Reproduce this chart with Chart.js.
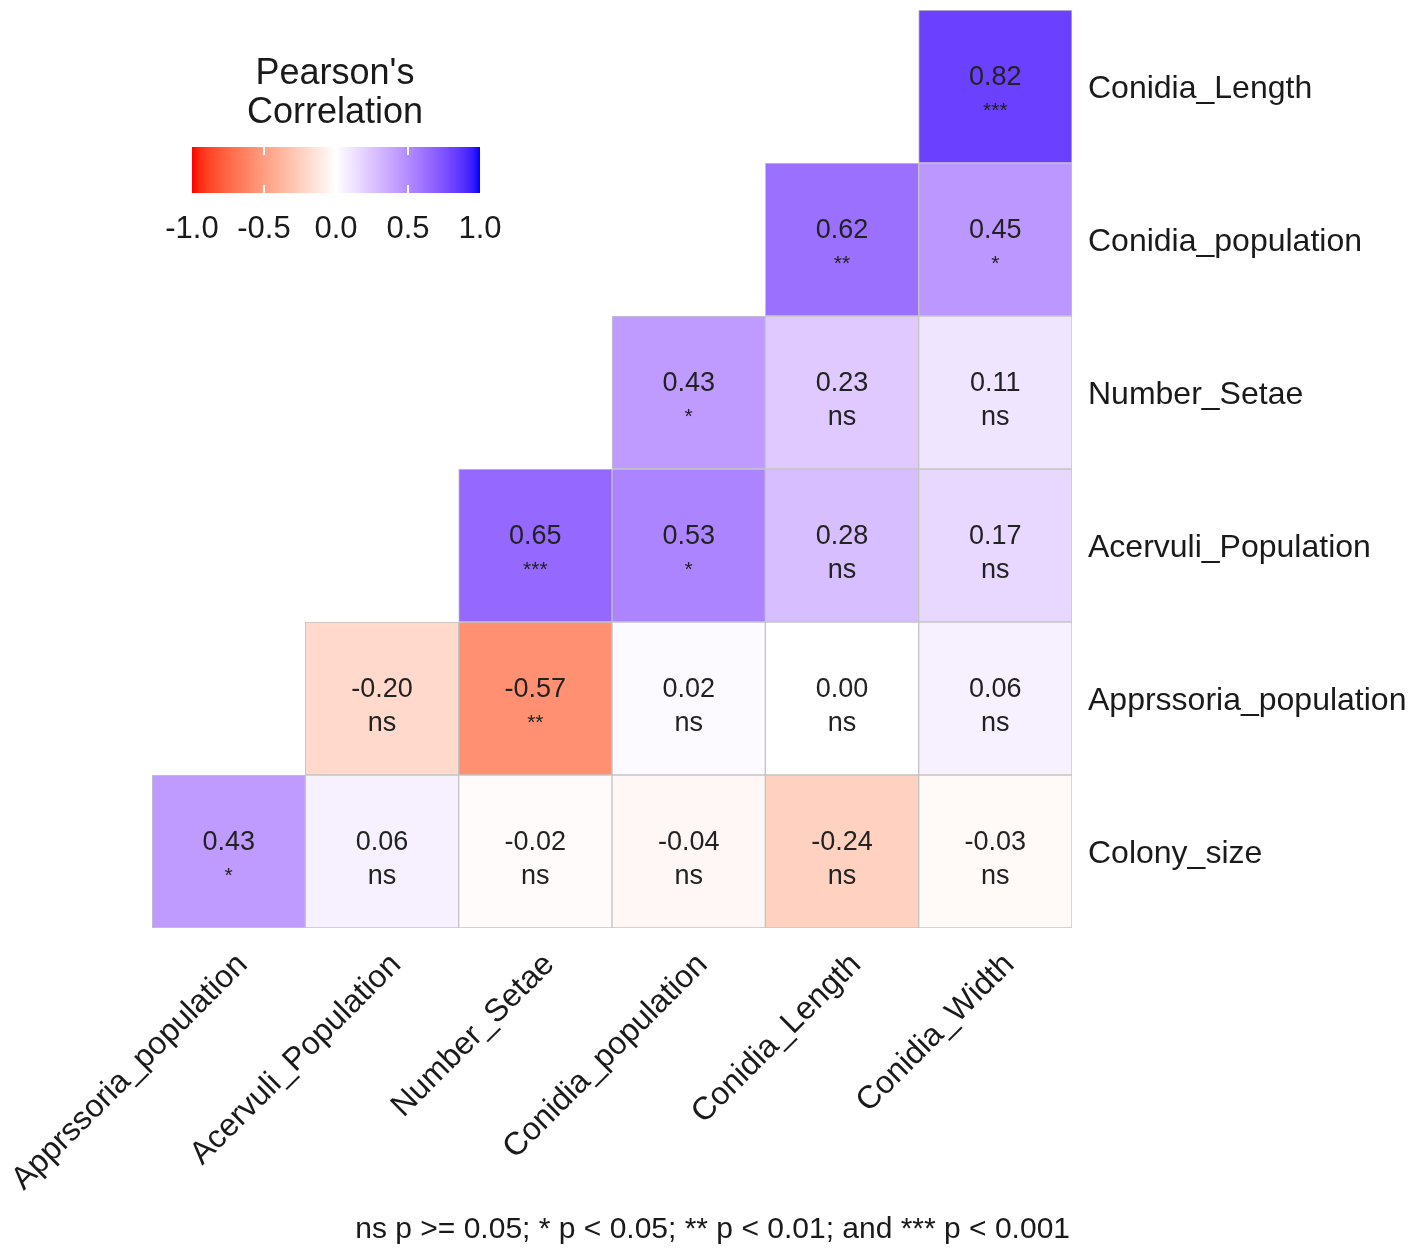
<!DOCTYPE html>
<html>
<head>
<meta charset="utf-8">
<script src="https://cdn.jsdelivr.net/npm/chart.js@4.4.0/dist/chart.umd.min.js"></script>
<style>
  html, body { margin: 0; padding: 0; background: #fff; }
  #wrap { width: 1418px; height: 1257px; }
</style>
</head>
<body>
<div id="wrap"><canvas id="corrChart"></canvas></div>
<script>
// columns (x) left to right
const colNames = ['Apprssoria_population', 'Acervuli_Population', 'Number_Setae', 'Conidia_population', 'Conidia_Length', 'Conidia_Width'];
// rows (y) bottom to top
const rowNames = ['Colony_size', 'Apprssoria_population', 'Acervuli_Population', 'Number_Setae', 'Conidia_population', 'Conidia_Length'];

// correlation values per row, null = empty cell
const colonySize     = [0.43, 0.06, -0.02, -0.04, -0.24, -0.03];
const apprssoriaPop  = [null, -0.20, -0.57, 0.02, 0.00, 0.06];
const acervuliPop    = [null, null, 0.65, 0.53, 0.28, 0.17];
const numberSetae    = [null, null, null, 0.43, 0.23, 0.11];
const conidiaPop     = [null, null, null, null, 0.62, 0.45];
const conidiaLength  = [null, null, null, null, null, 0.82];

// significance labels per row
const colonySizeSig    = ['*', 'ns', 'ns', 'ns', 'ns', 'ns'];
const apprssoriaPopSig = [null, 'ns', '**', 'ns', 'ns', 'ns'];
const acervuliPopSig   = [null, null, '***', '*', 'ns', 'ns'];
const numberSetaeSig   = [null, null, null, '*', 'ns', 'ns'];
const conidiaPopSig    = [null, null, null, null, '**', '*'];
const conidiaLengthSig = [null, null, null, null, null, '***'];

const legendTicks = [-1.0, -0.5, 0.0, 0.5, 1.0];
const footNote = 'ns p >= 0.05; * p < 0.05; ** p < 0.01; and *** p < 0.001';

const rowValues = [colonySize, apprssoriaPop, acervuliPop, numberSetae, conidiaPop, conidiaLength];
const rowSigs = [colonySizeSig, apprssoriaPopSig, acervuliPopSig, numberSetaeSig, conidiaPopSig, conidiaLengthSig];

const FONT = '"Liberation Sans", Arial, sans-serif';

// --- colour scale: red -> white -> blue, interpolated in Lab like ggplot ---
function toLin(c) { c /= 255; return c <= 0.04045 ? c / 12.92 : Math.pow((c + 0.055) / 1.055, 2.4); }
function fromLin(c) { c = c <= 0.0031308 ? 12.92 * c : 1.055 * Math.pow(c, 1 / 2.4) - 0.055; return Math.round(Math.max(0, Math.min(1, c)) * 255); }
function rgb2lab(rgb) {
  const r = toLin(rgb[0]), g = toLin(rgb[1]), b = toLin(rgb[2]);
  let x = (0.4124 * r + 0.3576 * g + 0.1805 * b) / 0.95047;
  let y = (0.2126 * r + 0.7152 * g + 0.0722 * b);
  let z = (0.0193 * r + 0.1192 * g + 0.9505 * b) / 1.08883;
  const f = t => t > 0.008856 ? Math.cbrt(t) : 7.787 * t + 16 / 116;
  x = f(x); y = f(y); z = f(z);
  return [116 * y - 16, 500 * (x - y), 200 * (y - z)];
}
function lab2rgb(lab) {
  const fy = (lab[0] + 16) / 116, fx = fy + lab[1] / 500, fz = fy - lab[2] / 200;
  const inv = t => t * t * t > 0.008856 ? t * t * t : (t - 16 / 116) / 7.787;
  const x = inv(fx) * 0.95047, y = inv(fy), z = inv(fz) * 1.08883;
  const r = 3.2406 * x - 1.5372 * y - 0.4986 * z;
  const g = -0.9689 * x + 1.8758 * y + 0.0415 * z;
  const b = 0.0557 * x - 0.2040 * y + 1.0570 * z;
  return [fromLin(r), fromLin(g), fromLin(b)];
}
const labLow = rgb2lab([255, 0, 0]), labMid = rgb2lab([255, 255, 255]), labHigh = rgb2lab([0, 0, 255]);
function corrColor(v) {
  const end = v < 0 ? labLow : labHigh, t = Math.min(1, Math.abs(v));
  const lab = [0, 1, 2].map(i => labMid[i] + (end[i] - labMid[i]) * t);
  const c = lab2rgb(lab);
  return 'rgb(' + c[0] + ',' + c[1] + ',' + c[2] + ')';
}

// one floating-bar dataset per row, each cell spans [row, row+1]
const datasets = rowValues.map((vals, r) => ({
  label: rowNames[r],
  data: vals.map(v => v === null ? null : [r, r + 1]),
  backgroundColor: vals.map(v => v === null ? 'rgba(0,0,0,0)' : corrColor(v)),
  borderColor: '#c4c4c4',
  borderWidth: 1,
  borderSkipped: false,
  grouped: false,
  barPercentage: 1,
  categoryPercentage: 1
}));

// cell labels: value + significance
const cellLabels = {
  id: 'cellLabels',
  afterDatasetsDraw(chart) {
    const ctx = chart.ctx, xs = chart.scales.x, ys = chart.scales.y;
    ctx.save();
    ctx.textAlign = 'center';
    ctx.textBaseline = 'middle';
    ctx.fillStyle = '#222';
    rowValues.forEach((vals, r) => {
      vals.forEach((v, c) => {
        if (v === null) return;
        const x = xs.getPixelForValue(c);
        const y = ys.getPixelForValue(r + 0.5);
        ctx.font = '27px ' + FONT;
        ctx.fillText(v.toFixed(2), x, y - 9);
        const s = rowSigs[r][c];
        if (s === 'ns') {
          ctx.fillText(s, x, y + 25);
        } else {
          ctx.font = '21px ' + FONT;
          ctx.fillText(s, x, y + 25);
        }
      });
    });
    ctx.restore();
  }
};

// colour bar legend + footnote
const colorLegend = {
  id: 'colorLegend',
  afterDraw(chart) {
    const ctx = chart.ctx;
    const bx = 192, by = 147, bw = 288, bh = 46;
    ctx.save();
    ctx.fillStyle = '#1a1a1a';
    ctx.textAlign = 'center';
    ctx.textBaseline = 'middle';
    ctx.font = '36px ' + FONT;
    ctx.fillText("Pearson's", 335, 74);
    ctx.fillText('Correlation', 335, 113);
    const grad = ctx.createLinearGradient(bx, 0, bx + bw, 0);
    for (let i = 0; i <= 40; i++) {
      const t = i / 40;
      grad.addColorStop(t, corrColor(-1 + 2 * t));
    }
    ctx.fillStyle = grad;
    ctx.fillRect(bx, by, bw, bh);
    ctx.strokeStyle = '#fff';
    ctx.lineWidth = 2;
    legendTicks.forEach(t => {
      const x = bx + (t + 1) / 2 * bw;
      if (t > -1 && t < 1) {
        ctx.beginPath();
        ctx.moveTo(x, by); ctx.lineTo(x, by + 8);
        ctx.moveTo(x, by + bh - 8); ctx.lineTo(x, by + bh);
        ctx.stroke();
      }
      ctx.fillStyle = '#1a1a1a';
      ctx.font = '31px ' + FONT;
      ctx.fillText(t.toFixed(1), x, 229);
    });
    ctx.textAlign = 'right';
    ctx.font = '30px ' + FONT;
    ctx.fillText(footNote, 1070, 1230);
    ctx.restore();
  }
};

const ctx = document.getElementById('corrChart').getContext('2d');
new Chart(ctx, {
  type: 'bar',
  data: { labels: colNames, datasets: datasets },
  options: {
    responsive: true,
    maintainAspectRatio: false,
    animation: false,
    events: [],
    layout: { padding: { left: 152, top: 10, right: 0, bottom: 0 } },
    plugins: { legend: { display: false }, tooltip: { enabled: false } },
    scales: {
      x: {
        type: 'category',
        grid: { display: false, drawTicks: false },
        border: { display: false },
        ticks: {
          minRotation: 45,
          maxRotation: 45,
          padding: 18,
          labelOffset: 14,
          color: '#1a1a1a',
          font: { family: FONT, size: 32 }
        },
        afterFit(scale) {
          scale.height = 329;
          scale.paddingLeft = 0;
          scale.paddingRight = 0;
        }
      },
      y: {
        type: 'linear',
        position: 'right',
        min: 0,
        max: 6,
        grid: { display: false, drawTicks: false },
        border: { display: false },
        afterBuildTicks(scale) {
          scale.ticks = rowNames.map((n, i) => ({ value: i + 0.5 }));
        },
        ticks: {
          padding: 16,
          labelOffset: 3,
          color: '#1a1a1a',
          font: { family: FONT, size: 32 },
          callback: function (value) { return rowNames[Math.floor(value)]; }
        },
        afterFit(scale) {
          scale.width = 346;
          scale.paddingTop = 0;
          scale.paddingBottom = 0;
        }
      }
    }
  },
  plugins: [cellLabels, colorLegend]
});
</script>
</body>
</html>
